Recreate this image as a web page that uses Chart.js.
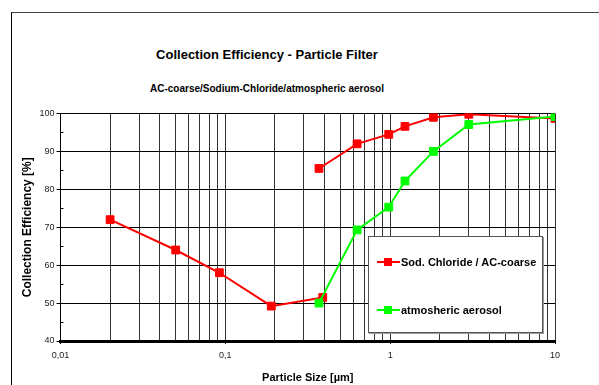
<!DOCTYPE html>
<html>
<head>
<meta charset="utf-8">
<script src="https://cdn.jsdelivr.net/npm/chart.js@4/dist/chart.umd.min.js"></script>
<style>
  html, body { margin:0; padding:0; background:#fff; overflow:hidden; }
  #wrap { position:relative; width:599px; height:385px; overflow:hidden; font-family:"Liberation Sans", Arial, sans-serif; }
  #frame { position:absolute; left:11px; top:12px; width:700px; height:500px; border:1px solid #000; border-top-color:#444; }
  #chart { position:absolute; left:0; top:0; }
  .ttl { position:absolute; left:67px; width:400px; text-align:center; font-weight:bold; color:#000; white-space:nowrap; }
  #legend { position:absolute; left:368px; top:236px; width:173px; height:95px; background:#fff; border:1px solid #555; box-shadow:1px 1px 0 #999;
            font-weight:bold; font-size:11px; color:#000; }
  .item { position:absolute; left:8px; display:flex; align-items:center; height:14px; }
  .sym { position:relative; width:23px; height:14px; margin-right:1px; }
  .sym .ln { position:absolute; left:0; right:0; top:6px; height:2px; }
  .sym .mk { position:absolute; left:7px; top:3px; width:8px; height:8px; }
</style>
</head>
<body>
<div id="wrap">
  <div id="frame"></div>
  <div class="ttl" style="top:47px;font-size:13px;line-height:16px">Collection Efficiency - Particle Filter</div>
  <div class="ttl" style="top:83px;font-size:10px;line-height:12px">AC-coarse/Sodium-Chloride/atmospheric aerosol</div>
  <canvas id="chart" width="599" height="385"></canvas>
  <div id="legend">
    <div class="item" style="top:18px">
      <div class="sym"><div class="ln" style="background:#ff0000"></div><div class="mk" style="background:#ff0000"></div></div>
      <span>Sod. Chloride / AC-coarse</span>
    </div>
    <div class="item" style="top:66px">
      <div class="sym"><div class="ln" style="background:#00ff00"></div><div class="mk" style="background:#00ff00"></div></div>
      <span>atmosheric aerosol</span>
    </div>
  </div>
</div>
<script>
// data (log x axis, particle size in µm)
const redX   = [0.02, 0.05, 0.092, 0.19, 0.39, 0.39, 0.37, 0.63, 0.98, 1.23, 1.83, 3.0, 10];
const redY   = [72, 64, 58, 49.2, 51.5, null, 85.5, 92, 94.5, 96.6, 99, 99.8, 98.7];
const greenX = [0.37, 0.63, 0.98, 1.23, 1.83, 3.0, 10];
const greenY = [50, 69.3, 75.3, 82.2, 90, 97.1, 99.2];

const xTicks = [0.01,0.02,0.03,0.04,0.05,0.06,0.07,0.08,0.09,
                0.1,0.2,0.3,0.4,0.5,0.6,0.7,0.8,0.9,
                1,2,3,4,5,6,7,8,9,10];
const xLabels = { 0.01:'0,01', 0.1:'0,1', 1:'1', 10:'10' };
const yMinor = [45, 55, 65, 75, 85, 95];

const FONT = '"Liberation Sans", Arial, sans-serif';
Chart.defaults.font.family = FONT;
Chart.defaults.color = '#222';

const isMajor = v => xLabels[v] !== undefined;

const minorTicks = {
  id:'minorTicks',
  afterDraw(chart) {
    const {ctx, scales:{y}} = chart;
    ctx.save();
    ctx.strokeStyle = '#000';
    ctx.lineWidth = 1;
    yMinor.forEach(v => {
      const py = Math.round(y.getPixelForValue(v)) + 0.5;
      ctx.beginPath();
      ctx.moveTo(y.right, py);
      ctx.lineTo(y.right + 3, py);
      ctx.stroke();
    });
    ctx.restore();
  }
};

new Chart(document.getElementById('chart'), {
  type:'line',
  data:{
    datasets:[
      { label:'Sod. Chloride / AC-coarse', data:redX.map((x,i)=>({x, y:redY[i]})),
        borderColor:'#ff0000', backgroundColor:'#ff0000', borderWidth:2, spanGaps:false,
        pointStyle:'rect', pointRadius:5.5, pointBorderWidth:1, pointBorderColor:'#ff0000', order:2 },
      { label:'atmosheric aerosol', data:greenX.map((x,i)=>({x, y:greenY[i]})),
        borderColor:'#00ff00', backgroundColor:'#00ff00', borderWidth:2,
        pointStyle:'rect', pointRadius:5.5, pointBorderWidth:1, pointBorderColor:'#00ff00', order:1 }
    ]
  },
  options:{
    responsive:false, animation:false,
    layout:{ padding:{ left:16, right:44, top:113.5, bottom:0 } },
    plugins:{ legend:{ display:false }, tooltip:{ enabled:false } },
    scales:{
      x:{
        type:'logarithmic', min:0.01, max:10,
        afterBuildTicks: s => { s.ticks = xTicks.map(v => ({ value:v, major:isMajor(v) })); },
        afterFit: s => { s.height = 44; },
        ticks:{ autoSkip:false, maxRotation:0, font:{ size:9 }, color:'#222', padding:6,
                callback:(v) => xLabels[v] || '' },
        grid:{ color:'#333', lineWidth:1, tickLength:3,
               tickColor: c => (c.tick && isMajor(c.tick.value)) ? '#000' : 'rgba(0,0,0,0)' },
        border:{ display:true, color:'#000', width:3 },
        title:{ display:true, text:'Particle Size [µm]', color:'#000', font:{ size:11, weight:'bold' },
                padding:{ top:4, bottom:0 } }
      },
      y:{
        min:40, max:100,
        afterFit: s => { s.width = 44.5; },
        ticks:{ stepSize:10, font:{ size:9 }, color:'#222', padding:2 },
        grid:{ color:'#000', lineWidth:1, tickLength:4, tickColor:'#000' },
        border:{ display:true, color:'#000', width:1 },
        title:{ display:true, text:'Collection Efficiency [%]', color:'#000', font:{ size:12, weight:'bold' },
                padding:{ top:4, bottom:4 } }
      }
    }
  },
  plugins:[minorTicks]
});
</script>
</body>
</html>
